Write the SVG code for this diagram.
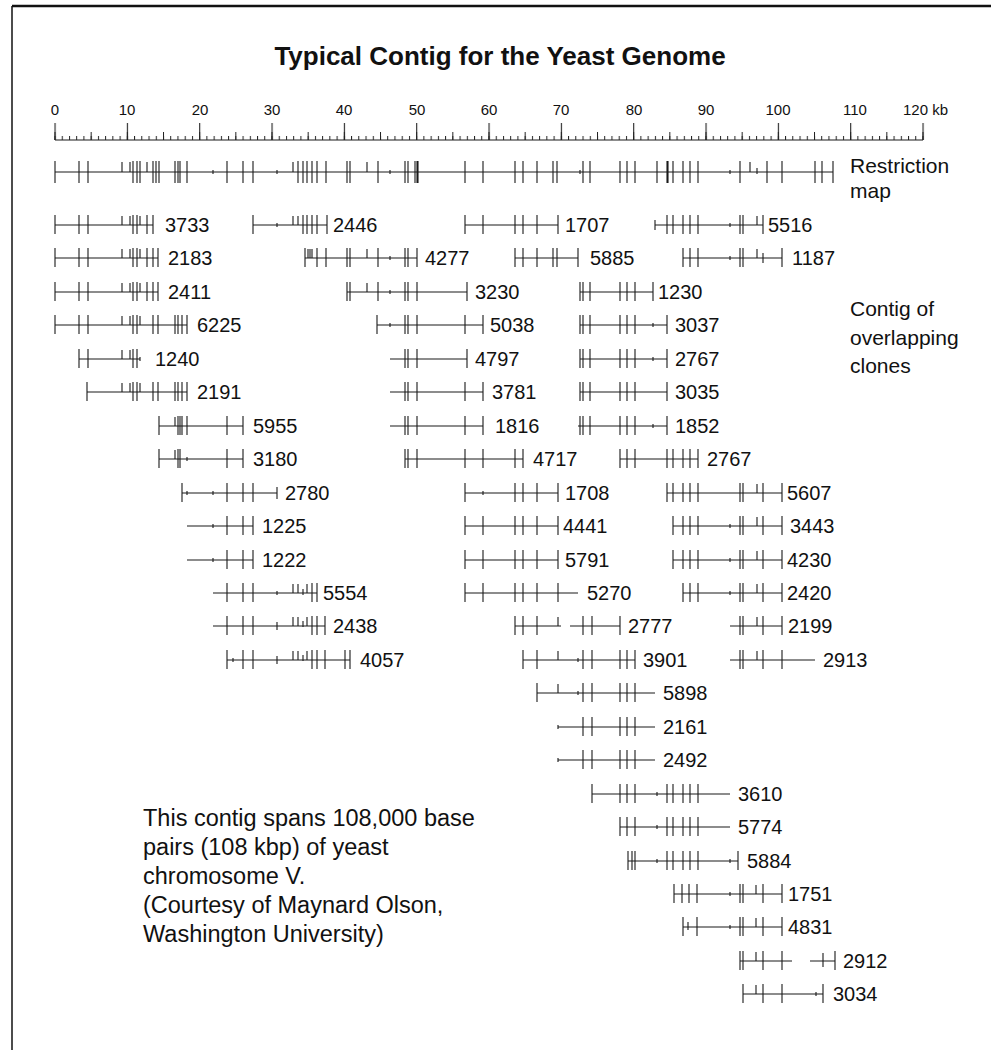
<svg xmlns="http://www.w3.org/2000/svg" width="991" height="1061" viewBox="0 0 991 1061">
<style>
.c{fill:none;stroke:#1a1a1a;stroke-width:1.1}
.t{font-family:"Liberation Sans",Arial,Helvetica,sans-serif;font-size:20px;fill:#111}
.s{font-size:15px}
.lab{font-size:21px}
.note{font-size:23.5px}
.title{font-size:26px;font-weight:bold}
</style>
<defs>
<pattern id="minor" patternUnits="userSpaceOnUse" x="54.5" y="0" width="7.2333" height="200"><rect x="0" y="136" width="1" height="4" fill="#222"/></pattern>
<pattern id="mid" patternUnits="userSpaceOnUse" x="54.5" y="0" width="36.1667" height="200"><rect x="0" y="132" width="1" height="8" fill="#222"/></pattern>
<pattern id="major" patternUnits="userSpaceOnUse" x="54.5" y="0" width="72.333" height="200"><rect x="0" y="123" width="1.1" height="17" fill="#222"/></pattern>
</defs>
<rect width="991" height="1061" fill="#fff"/>
<g id="frame"><path d="M12 6H991" stroke="#111" stroke-width="2.5" fill="none"/><path d="M12 6V1050" stroke="#111" stroke-width="1.5" fill="none"/></g>
<g id="title"><text class="t title" x="500" y="65" text-anchor="middle">Typical Contig for the Yeast Genome</text></g>
<g id="scale">
<g class="t s" text-anchor="middle">
<text x="55" y="115">0</text><text x="127" y="115">10</text><text x="200" y="115">20</text><text x="272" y="115">30</text><text x="344" y="115">40</text><text x="417" y="115">50</text><text x="489" y="115">60</text><text x="561" y="115">70</text><text x="634" y="115">80</text><text x="706" y="115">90</text><text x="778" y="115">100</text><text x="855" y="115">110</text>
</g>
<text class="t s" x="903" y="115">120 kb</text>
<path class="c" d="M55 140H923"/>
<rect x="54" y="120" width="870" height="21" fill="url(#minor)"/>
<rect x="54" y="120" width="870" height="21" fill="url(#mid)"/>
<rect x="54" y="120" width="871" height="21" fill="url(#major)"/>
</g>
<g id="restriction-map">
<path class="c" d="M55 172H833M55 161v22M79 161v22M88 161v22M122 162v10M130 162v10M133 161v22M137 161v22M140 161v22M147 162v10M153 161v22M156 161v22M159 161v22M175 161v22M178 161v22M180 161v22M187 161v22M213 170v4M227 161v22M243 161v22M253 161v22M277 170v4M293 162v10M298 161v22M303 161v22M307 161v22M312 161v22M317 161v22M326 161v22M347 161v22M350 161v22M367 162v10M378 161v22M390 170v4M405 161v22M408 161v22M415 161v22M417 161v22M418 161v22M465 161v22M483 161v22M515 161v22M523 161v22M537 161v22M553 161v22M557 161v22M580 170v4M583 161v22M590 161v22M620 161v22M627 161v22M635 161v22M657 161v22M667 161v22M668 161v22M673 161v22M683 161v22M690 161v22M698 161v22M730 170v4M740 161v22M750 162v10M757 168v6M767 161v22M782 161v22M815 161v22M822 161v22M833 161v22"/>
<text class="t lab" x="850" y="173">Restriction</text>
<text class="t lab" x="850" y="198">map</text>
</g>
<g id="side-label"><text class="t lab" x="850" y="316">Contig of</text><text class="t lab" x="850" y="345">overlapping</text><text class="t lab" x="850" y="373">clones</text></g>
<g id="connectors">
<g id="clone-3733"><path class="c" d="M55 225H153M55 215v19M79 215v19M88 215v19M122 216v9M130 216v9M133 215v19M137 215v19M140 216v9M147 215v19M153 215v19"/><text class="t" x="165" y="232">3733</text></g>
<g id="clone-2183"><path class="c" d="M55 258H158M55 248v19M79 248v19M88 248v19M122 249v9M130 249v9M133 248v19M137 248v19M140 249v9M147 248v19M153 248v19M158 248v19"/><text class="t" x="168" y="265">2183</text></g>
<g id="clone-2411"><path class="c" d="M55 292H158M55 282v19M79 282v19M88 282v19M122 283v9M130 283v9M133 282v19M137 282v19M140 283v9M147 282v19M153 282v19M158 282v19"/><text class="t" x="168" y="299">2411</text></g>
<g id="clone-6225"><path class="c" d="M55 325H187M55 315v19M79 315v19M88 315v19M122 316v9M130 316v9M133 315v19M137 315v19M140 316v9M153 315v19M158 315v19M175 315v19M178 315v19M182 315v19M187 315v19"/><text class="t" x="197" y="332">6225</text></g>
<g id="clone-1240"><path class="c" d="M79 359H140M79 349v19M88 349v19M122 350v9M130 350v9M133 349v19M137 349v19M140 357v4"/><text class="t" x="155" y="366">1240</text></g>
<g id="clone-2191"><path class="c" d="M87 392H187M87 382v19M122 383v9M130 383v9M133 382v19M137 382v19M140 383v9M153 382v19M158 382v19M175 382v19M178 382v19M182 382v19M187 382v19"/><text class="t" x="197" y="399">2191</text></g>
<g id="clone-5955"><path class="c" d="M159 426H243M159 416v19M175 417v9M178 416v19M180 416v19M182 416v19M187 416v19M227 416v19M243 416v19"/><text class="t" x="253" y="433">5955</text></g>
<g id="clone-3180"><path class="c" d="M159 459H243M159 449v19M175 450v9M178 449v19M180 449v19M187 457v4M227 449v19M243 449v19"/><text class="t" x="253" y="466">3180</text></g>
<g id="clone-2780"><path class="c" d="M182 493H277M182 483v19M187 491v4M213 491v4M227 483v19M243 483v19M253 483v19M277 487v12"/><text class="t" x="285" y="500">2780</text></g>
<g id="clone-1225"><path class="c" d="M187 526H253M213 524v4M227 516v19M243 516v19M253 516v19"/><text class="t" x="262" y="533">1225</text></g>
<g id="clone-1222"><path class="c" d="M187 560H253M213 558v4M227 550v19M243 550v19M253 550v19"/><text class="t" x="262" y="567">1222</text></g>
<g id="clone-5554"><path class="c" d="M213 593H317M227 583v19M243 583v19M253 583v19M277 591v4M293 584v9M298 584v9M303 589v6M307 584v9M312 583v19M317 583v19"/><text class="t" x="323" y="600">5554</text></g>
<g id="clone-2438"><path class="c" d="M213 626H325M227 616v19M243 616v19M253 616v19M277 622v8M293 617v9M298 617v9M303 621v6M307 617v9M312 616v19M317 616v19M325 616v19"/><text class="t" x="333" y="633">2438</text></g>
<g id="clone-4057"><path class="c" d="M227 660H350M227 650v19M233 658v4M243 650v19M253 650v19M277 656v8M293 651v9M298 651v9M303 655v6M307 651v9M312 650v19M317 650v19M325 650v19M345 650v19M350 650v19"/><text class="t" x="360" y="667">4057</text></g>
<g id="clone-2446"><path class="c" d="M253 225H327M253 215v19M277 223v4M293 216v9M298 216v9M303 215v19M307 215v19M312 215v19M317 215v19M327 215v19"/><text class="t" x="333" y="232">2446</text></g>
<g id="clone-4277"><path class="c" d="M305 258H417M305 248v19M308 249v9M310 249v9M312 249v9M317 248v19M326 248v19M347 248v19M350 248v19M367 249v9M378 248v19M390 256v4M405 248v19M408 248v19M417 248v19"/><text class="t" x="425" y="265">4277</text></g>
<g id="clone-3230"><path class="c" d="M347 292H467M347 282v19M350 282v19M367 283v9M378 282v19M390 290v4M405 282v19M408 282v19M417 282v19M467 282v19"/><text class="t" x="475" y="299">3230</text></g>
<g id="clone-5038"><path class="c" d="M377 325H483M377 315v19M390 323v4M405 315v19M408 315v19M417 315v19M465 315v19M483 315v19"/><text class="t" x="490" y="332">5038</text></g>
<g id="clone-4797"><path class="c" d="M390 359H467M405 349v19M408 349v19M417 349v19M467 349v19"/><text class="t" x="475" y="366">4797</text></g>
<g id="clone-3781"><path class="c" d="M390 392H483M405 382v19M408 382v19M417 382v19M465 382v19M483 382v19"/><text class="t" x="492" y="399">3781</text></g>
<g id="clone-1816"><path class="c" d="M390 426H483M405 416v19M408 416v19M417 416v19M465 416v19M483 416v19"/><text class="t" x="495" y="433">1816</text></g>
<g id="clone-4717"><path class="c" d="M405 459H523M405 449v19M408 449v19M417 449v19M465 449v19M483 449v19M515 449v19M523 449v19"/><text class="t" x="533" y="466">4717</text></g>
<g id="clone-1708"><path class="c" d="M465 493H558M465 483v19M483 491v4M515 483v19M523 483v19M537 483v19M558 483v19"/><text class="t" x="565" y="500">1708</text></g>
<g id="clone-4441"><path class="c" d="M465 526H558M465 516v19M483 516v19M515 516v19M523 516v19M537 516v19M558 516v19"/><text class="t" x="563" y="533">4441</text></g>
<g id="clone-5791"><path class="c" d="M465 560H558M465 550v19M483 550v19M515 550v19M523 550v19M537 550v19M558 550v19"/><text class="t" x="565" y="567">5791</text></g>
<g id="clone-5270"><path class="c" d="M465 593H578M465 583v19M483 583v19M515 583v19M523 583v19M537 583v19M558 583v19"/><text class="t" x="587" y="600">5270</text></g>
<g id="clone-2777"><path class="c" d="M515 626H561M570 626H620M515 616v19M523 616v19M537 616v19M558 617v9M583 616v19M592 616v19M620 616v19"/><text class="t" x="628" y="633">2777</text></g>
<g id="clone-3901"><path class="c" d="M523 660H635M523 650v19M537 650v19M558 651v9M578 658v4M583 650v19M592 650v19M620 650v19M627 650v19M635 650v19"/><text class="t" x="643" y="667">3901</text></g>
<g id="clone-5898"><path class="c" d="M537 693H655M537 683v19M558 684v9M578 691v4M583 683v19M592 683v19M620 683v19M627 683v19M635 683v19"/><text class="t" x="663" y="700">5898</text></g>
<g id="clone-2161"><path class="c" d="M558 727H655M558 725v4M583 717v19M592 717v19M620 717v19M627 717v19M635 717v19"/><text class="t" x="663" y="734">2161</text></g>
<g id="clone-2492"><path class="c" d="M558 760H655M558 758v4M583 750v19M592 750v19M620 750v19M627 750v19M635 750v19"/><text class="t" x="663" y="767">2492</text></g>
<g id="clone-3610"><path class="c" d="M592 794H730M592 784v19M620 784v19M627 784v19M635 784v19M657 792v4M667 784v19M673 784v19M683 784v19M690 784v19M698 784v19"/><text class="t" x="738" y="801">3610</text></g>
<g id="clone-5774"><path class="c" d="M620 827H730M620 817v19M627 817v19M635 817v19M657 825v4M667 817v19M673 817v19M683 817v19M690 817v19M698 817v19"/><text class="t" x="738" y="834">5774</text></g>
<g id="clone-5884"><path class="c" d="M628 861H738M628 851v19M632 851v19M635 851v19M657 859v4M667 851v19M673 851v19M683 851v19M690 851v19M698 851v19M730 859v4M738 851v19"/><text class="t" x="747" y="868">5884</text></g>
<g id="clone-1751"><path class="c" d="M674 894H782M674 884v19M682 884v19M689 884v19M697 884v19M730 892v4M740 884v19M743 884v19M756 885v9M763 884v19M782 884v19"/><text class="t" x="788" y="901">1751</text></g>
<g id="clone-4831"><path class="c" d="M683 927H782M683 917v19M688 922v8M697 917v19M730 925v4M740 917v19M743 917v19M756 918v9M763 917v19M782 917v19"/><text class="t" x="788" y="934">4831</text></g>
<g id="clone-2912"><path class="c" d="M740 961H792M810 961H835M740 951v19M743 951v19M756 952v9M763 951v19M782 951v19M823 953v14M835 951v19"/><text class="t" x="843" y="968">2912</text></g>
<g id="clone-3034"><path class="c" d="M743 994H823M743 984v19M756 985v9M763 984v19M782 984v19M816 992v4M823 984v19"/><text class="t" x="833" y="1001">3034</text></g>
<g id="clone-5516"><path class="c" d="M655 225H763M655 220v10M667 215v19M673 215v19M683 215v19M690 215v19M698 215v19M730 223v4M740 215v19M743 215v19M757 216v9M763 215v19"/><text class="t" x="768" y="232">5516</text></g>
<g id="clone-1187"><path class="c" d="M683 258H782M683 248v19M690 248v19M698 248v19M730 256v4M740 248v19M743 248v19M757 249v9M763 253v10M782 248v19"/><text class="t" x="792" y="265">1187</text></g>
<g id="clone-1707"><path class="c" d="M465 225H558M465 215v19M483 215v19M515 215v19M523 215v19M537 215v19M558 215v19"/><text class="t" x="565" y="232">1707</text></g>
<g id="clone-5885"><path class="c" d="M515 258H578M515 248v19M523 248v19M537 248v19M553 248v19M557 248v19M578 248v19"/><text class="t" x="590" y="265">5885</text></g>
<g id="clone-1230"><path class="c" d="M580 292H653M580 282v19M583 282v19M590 282v19M620 282v19M627 282v19M635 282v19M653 282v19"/><text class="t" x="658" y="299">1230</text></g>
<g id="clone-3037"><path class="c" d="M580 325H667M580 315v19M583 315v19M590 315v19M620 315v19M627 315v19M635 315v19M653 323v4M667 315v19"/><text class="t" x="675" y="332">3037</text></g>
<g id="clone-2767a"><path class="c" d="M580 359H667M580 349v19M583 349v19M590 349v19M620 349v19M627 349v19M635 349v19M653 357v4M667 349v19"/><text class="t" x="675" y="366">2767</text></g>
<g id="clone-3035"><path class="c" d="M580 392H667M580 382v19M583 382v19M590 382v19M620 382v19M627 382v19M635 382v19M667 382v19"/><text class="t" x="675" y="399">3035</text></g>
<g id="clone-1852"><path class="c" d="M578 426H667M580 416v19M583 416v19M590 416v19M620 416v19M627 416v19M635 416v19M653 424v4M667 416v19"/><text class="t" x="675" y="433">1852</text></g>
<g id="clone-2767b"><path class="c" d="M620 459H698M620 449v19M627 449v19M635 449v19M667 449v19M673 449v19M683 449v19M690 449v19M698 449v19"/><text class="t" x="707" y="466">2767</text></g>
<g id="clone-5607"><path class="c" d="M667 493H782M667 483v19M673 483v19M683 483v19M690 483v19M698 483v19M740 483v19M743 483v19M757 484v9M763 483v19M782 483v19"/><text class="t" x="787" y="500">5607</text></g>
<g id="clone-3443"><path class="c" d="M673 526H782M673 516v19M683 516v19M690 516v19M698 516v19M730 524v4M740 516v19M743 516v19M757 517v9M763 516v19M782 516v19"/><text class="t" x="790" y="533">3443</text></g>
<g id="clone-4230"><path class="c" d="M673 560H782M673 550v19M683 550v19M690 550v19M698 550v19M730 558v4M740 550v19M743 550v19M757 551v9M763 550v19M782 550v19"/><text class="t" x="787" y="567">4230</text></g>
<g id="clone-2420"><path class="c" d="M683 593H782M683 583v19M690 583v19M698 583v19M730 591v4M740 583v19M743 583v19M757 584v9M763 583v19M782 583v19"/><text class="t" x="787" y="600">2420</text></g>
<g id="clone-2199"><path class="c" d="M730 626H782M740 616v19M743 616v19M757 617v9M763 616v19M782 616v19"/><text class="t" x="788" y="633">2199</text></g>
<g id="clone-2913"><path class="c" d="M730 660H815M740 650v19M743 650v19M757 651v9M763 650v19M782 650v19"/><text class="t" x="823" y="667">2913</text></g>
</g>
<g id="note" class="t note">
<text x="143" y="826">This contig spans 108,000 base</text>
<text x="143" y="855">pairs (108 kbp) of yeast</text>
<text x="143" y="884">chromosome V.</text>
<text x="143" y="913">(Courtesy of Maynard Olson,</text>
<text x="143" y="942">Washington University)</text>
</g>
</svg>
